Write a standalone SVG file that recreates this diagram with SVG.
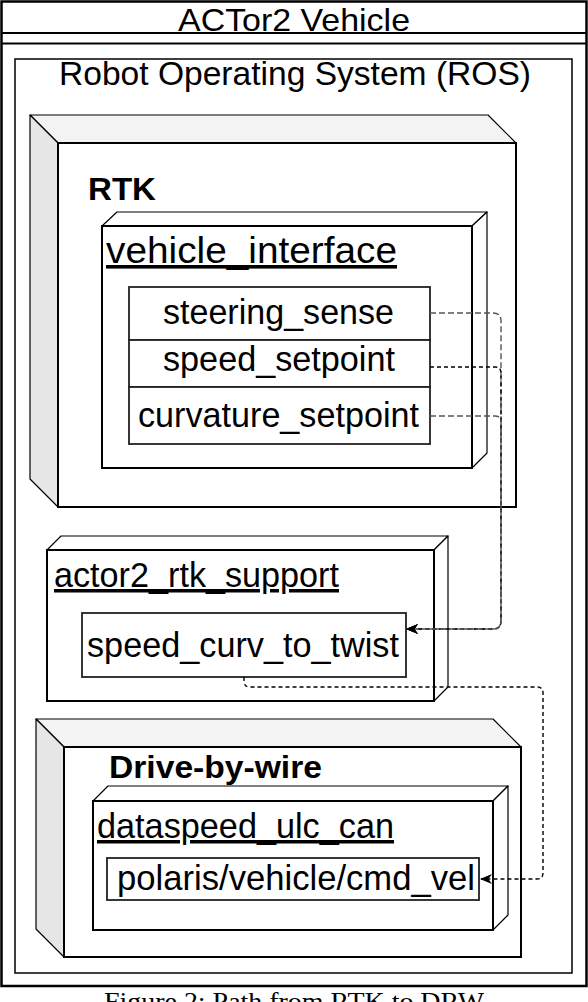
<svg xmlns="http://www.w3.org/2000/svg" width="588" height="1002" viewBox="0 0 588 1002">
<style>
  .t{font-family:"Liberation Sans",Arial,Helvetica,sans-serif;fill:#000}
  .b{font-weight:bold}
  .u{text-decoration:underline}
  .ol{fill:#fff;stroke:#000;stroke-width:2}
  .face{stroke:#000;stroke-width:1.2;stroke-linejoin:round}
  .fld{fill:#fff;stroke:#222;stroke-width:1.8}
  .e{fill:none;stroke-width:1.4}
</style>
<defs>
  <marker id="arr" viewBox="0 0 12 10" refX="11" refY="5" markerWidth="12" markerHeight="10" markerUnits="userSpaceOnUse" orient="auto">
    <path d="M0,0 L12,5 L0,10 L3.5,5 Z" fill="#000"/>
  </marker>
</defs>
<rect width="588" height="1002" fill="#fff"/>

<g id="actor2-vehicle">
  <rect x="1.5" y="1.5" width="585" height="984.5" fill="#fff" stroke="#000" stroke-width="2.5"/>
  <line x1="1.5" y1="33" x2="586.5" y2="33" stroke="#000" stroke-width="2"/>
  <line x1="1.5" y1="43.5" x2="586.5" y2="43.5" stroke="#000" stroke-width="2"/>
  <text class="t" x="178" y="31" font-size="32" textLength="232" lengthAdjust="spacingAndGlyphs">ACTor2 Vehicle</text>
</g>

<g id="ros">
  <rect x="15" y="59" width="557" height="914" fill="#fff" stroke="#000" stroke-width="1.5"/>
  <text class="t" x="59" y="85" font-size="33" textLength="472" lengthAdjust="spacingAndGlyphs">Robot Operating System (ROS)</text>
</g>

<g id="rtk">
  <polygon class="face" points="30,115 488,115 516,143 58,143" fill="#f3f3f3"/>
  <polygon class="face" points="30,115 58,143 58,507 30,479" fill="#e6e6e6"/>
  <rect class="ol" x="58" y="143" width="458" height="364"/>
  <text class="t b" x="88" y="200" font-size="31" textLength="68" lengthAdjust="spacingAndGlyphs">RTK</text>
</g>

<g id="vehicle_interface">
  <polygon class="face" points="102,226 117,212 487,212 472,226" fill="#fff"/>
  <polygon class="face" points="472,226 487,212 487,453 472,468" fill="#fff"/>
  <rect class="ol" x="102" y="226" width="370" height="242"/>
  <text class="t u" x="106" y="263" font-size="36" textLength="291" lengthAdjust="spacingAndGlyphs">vehicle_interface</text>
</g>

<g id="steering_sense">
  <rect class="fld" x="129" y="287" width="301" height="53"/>
  <text class="t" x="163" y="324" font-size="35" textLength="231" lengthAdjust="spacingAndGlyphs">steering_sense</text>
</g>
<g id="speed_setpoint">
  <rect class="fld" x="129" y="340" width="301" height="47"/>
  <text class="t" x="163" y="371" font-size="35" textLength="232" lengthAdjust="spacingAndGlyphs">speed_setpoint</text>
</g>
<g id="curvature_setpoint">
  <rect class="fld" x="129" y="387" width="301" height="57"/>
  <text class="t" x="138" y="427" font-size="35" textLength="281" lengthAdjust="spacingAndGlyphs">curvature_setpoint</text>
</g>

<g id="actor2_rtk_support">
  <polygon class="face" points="47,550 61,536 448,536 434,550" fill="#fff"/>
  <polygon class="face" points="434,550 448,536 448,687 434,701" fill="#fff"/>
  <rect class="ol" x="47" y="550" width="387" height="151"/>
  <text class="t u" x="54" y="587" font-size="35" textLength="285" lengthAdjust="spacingAndGlyphs">actor2_rtk_support</text>
</g>

<g id="speed_curv_to_twist">
  <rect class="fld" x="82" y="613" width="324" height="64"/>
  <text class="t" x="87" y="657" font-size="35" textLength="312" lengthAdjust="spacingAndGlyphs">speed_curv_to_twist</text>
</g>

<g id="drive-by-wire">
  <polygon class="face" points="36,719 493,719 521,747 64,747" fill="#f3f3f3"/>
  <polygon class="face" points="36,719 64,747 64,957 36,929" fill="#e6e6e6"/>
  <rect class="ol" x="64" y="747" width="457" height="210"/>
  <text class="t b" x="109" y="778" font-size="31" textLength="213" lengthAdjust="spacingAndGlyphs">Drive-by-wire</text>
</g>

<g id="dataspeed_ulc_can">
  <polygon class="face" points="93,801 108,786 508,786 493,801" fill="#fff"/>
  <polygon class="face" points="493,801 508,786 508,915 493,930" fill="#fff"/>
  <rect class="ol" x="93" y="801" width="400" height="129"/>
  <text class="t u" x="97" y="838" font-size="35" textLength="297" lengthAdjust="spacingAndGlyphs">dataspeed_ulc_can</text>
</g>

<g id="cmd_vel">
  <rect class="fld" x="107" y="858" width="372" height="42"/>
  <text class="t" x="117" y="890" font-size="35" textLength="358" lengthAdjust="spacingAndGlyphs">polaris/vehicle/cmd_vel</text>
</g>

<g id="connectors">
  <path class="e" d="M430,313 L493,313 Q501,313 501,321 L501,621 Q501,629 493,629 L407,629" stroke="#555" stroke-dasharray="6 3" marker-end="url(#arr)"/>
  <path class="e" d="M430,367 L495,367 Q501,367 501,373 L501,621 Q501,629 493,629 L407,629" stroke="#000" stroke-dasharray="4 3" marker-end="url(#arr)"/>
  <path class="e" d="M430,416 L495,416 Q501,416 501,422 L501,621 Q501,629 493,629 L407,629" stroke="#555" stroke-dasharray="6 3" marker-end="url(#arr)"/>
  <path class="e" d="M244,677 L244,681 Q244,687 250,687 L537,687 Q543,687 543,693 L543,873 Q543,879 537,879 L481,879" stroke="#000" stroke-dasharray="4 3" marker-end="url(#arr)"/>
</g>

<text x="104" y="1010" font-family="'Liberation Serif','Times New Roman',serif" font-size="26" textLength="380" lengthAdjust="spacingAndGlyphs" fill="#000">Figure 2: Path from RTK to DRW</text>
</svg>
